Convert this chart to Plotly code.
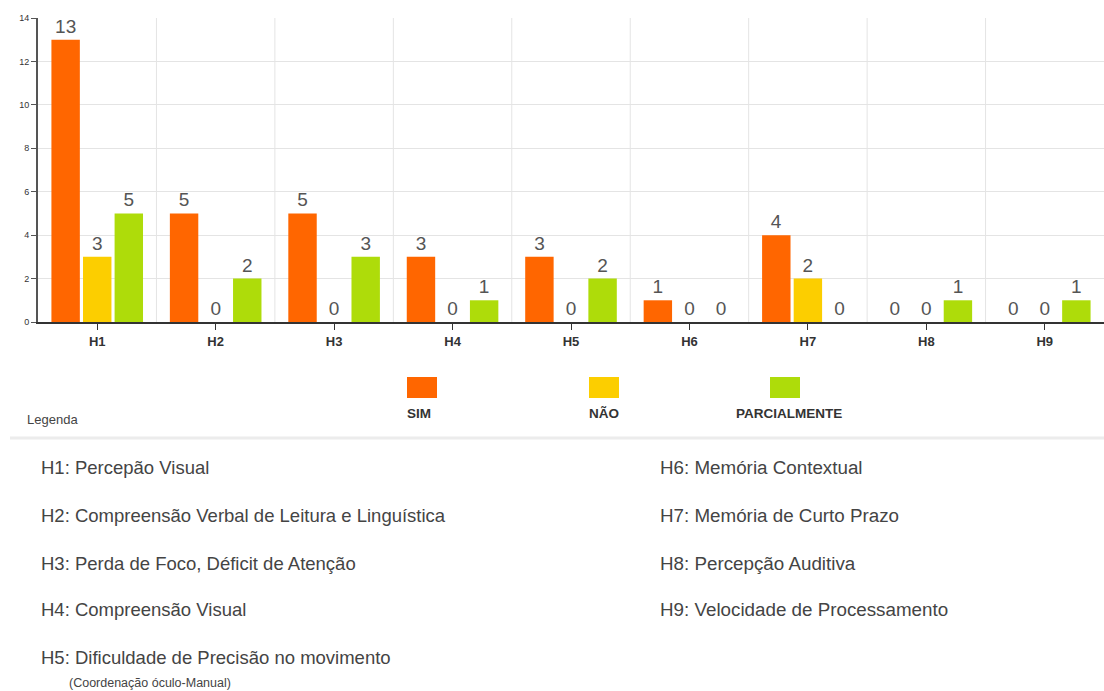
import plotly.graph_objects as go

# Categories and answer counts per category
categories = ["H1", "H2", "H3", "H4", "H5", "H6", "H7", "H8", "H9"]
sim = [13, 5, 5, 3, 3, 1, 4, 0, 0]
nao = [3, 0, 0, 0, 0, 0, 2, 0, 0]
parcial = [5, 2, 3, 1, 2, 0, 0, 1, 1]

series_names = ["SIM", "NÃO", "PARCIALMENTE"]
series_colors = ["#FF6600", "#FCCE00", "#AEDC0A"]

left_items = [
    "H1: Percepão Visual",
    "H2: Compreensão Verbal de Leitura e Linguística",
    "H3: Perda de Foco, Déficit de Atenção",
    "H4: Compreensão Visual",
    "H5: Dificuldade de Precisão no movimento",
]
left_note = "(Coordenação óculo-Manual)"
right_items = [
    "H6: Memória Contextual",
    "H7: Memória de Curto Prazo",
    "H8: Percepção Auditiva",
    "H9: Velocidade de Processamento",
]

W, H = 1104, 691
ML, MR, MT, MB = 38, 0, 18, 369
FONT = "Liberation Sans, Arial, sans-serif"


def px(x):
    return (x - ML) / (W - ML - MR)


def py(y):
    return (H - MB - y) / (H - MT - MB)


fig = go.Figure()
for name, vals, col in zip(series_names, [sim, nao, parcial], series_colors):
    fig.add_trace(go.Bar(
        x=categories, y=vals, name=name,
        marker=dict(color=col, line=dict(width=0)),
        text=[str(v) for v in vals], textposition="outside",
        textfont=dict(size=19, color="#555555", family=FONT),
        cliponaxis=False, showlegend=False,
    ))

annotations = []
shapes = []

# Custom legend row: swatches above labels
swatch_x = [422, 604, 785]
label_x = [419, 604, 789]
for sx, lx, label, col in zip(swatch_x, label_x, series_names, series_colors):
    shapes.append(dict(type="rect", xref="paper", yref="paper",
                       x0=px(sx - 15), x1=px(sx + 15), y0=py(398), y1=py(377),
                       fillcolor=col, line=dict(width=0)))
    annotations.append(dict(xref="paper", yref="paper", x=px(lx), y=py(413),
                            text="<b>" + label + "</b>", showarrow=False,
                            xanchor="center", yanchor="middle",
                            font=dict(size=13.5, color="#333333", family=FONT)))
annotations.append(dict(xref="paper", yref="paper", x=px(25), y=py(419),
                        text="Legenda", showarrow=False, xanchor="left",
                        yanchor="middle",
                        font=dict(size=13, color="#444444", family=FONT)))
shapes.append(dict(type="line", xref="paper", yref="paper",
                   x0=px(10), x1=px(1104), y0=py(438), y1=py(438),
                   line=dict(color="#ececec", width=3)))

# Category descriptions
rows_y = [467, 515, 563, 609, 657]
for txt, yy in zip(left_items, rows_y):
    annotations.append(dict(xref="paper", yref="paper", x=px(39), y=py(yy),
                            text=txt, showarrow=False, xanchor="left",
                            yanchor="middle",
                            font=dict(size=18.5, color="#444444", family=FONT)))
annotations.append(dict(xref="paper", yref="paper", x=px(67), y=py(683),
                        text=left_note, showarrow=False, xanchor="left",
                        yanchor="middle",
                        font=dict(size=12.5, color="#444444", family=FONT)))
for txt, yy in zip(right_items, rows_y):
    annotations.append(dict(xref="paper", yref="paper", x=px(658), y=py(yy),
                            text=txt, showarrow=False, xanchor="left",
                            yanchor="middle",
                            font=dict(size=18.8, color="#444444", family=FONT)))

# Vertical grid lines between categories
for i in range(1, len(categories)):
    shapes.append(dict(type="line", xref="x", yref="y", x0=i - 0.5, x1=i - 0.5,
                       y0=0, y1=14, layer="below",
                       line=dict(color="#e4e4e4", width=1)))

fig.update_layout(
    width=W, height=H,
    margin=dict(l=ML, r=MR, t=MT, b=MB),
    paper_bgcolor="white", plot_bgcolor="white",
    barmode="group", bargap=0.2, bargroupgap=0.1,
    font=dict(family=FONT),
    annotations=annotations, shapes=shapes,
    xaxis=dict(
        showgrid=False, showline=True, linecolor="#333333", linewidth=2,
        ticks="outside", ticklen=6, tickcolor="#333333",
        tickfont=dict(size=13, color="#333333", weight="bold"),
        range=[-0.5, 8.5],
    ),
    yaxis=dict(
        range=[0, 14], dtick=2, showgrid=True, gridcolor="#e4e4e4",
        showline=True, linecolor="#555555", linewidth=2,
        ticks="outside", ticklen=5, tickcolor="#555555",
        tickfont=dict(size=9, color="#333333"), zeroline=False,
    ),
)

fig.write_html("out.html")
